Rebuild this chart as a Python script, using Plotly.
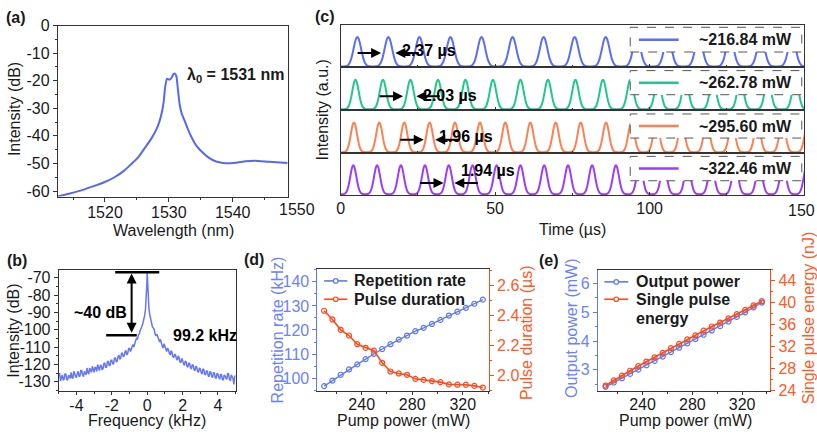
import plotly.graph_objects as go

W, H = 817, 437
FONT = "Liberation Sans, Arial, Helvetica, sans-serif"
INK = "#1a1a1a"
FRAME = "#333333"

# ---------------- data ----------------
# (a) optical spectrum
wavelength_nm = [1512.6, 1514.5, 1516.5, 1518.5, 1519.7, 1521.5, 1523.0, 1523.9, 1525.2, 1526.45,
                 1527.3, 1528.0, 1528.5, 1528.96, 1529.2, 1529.4, 1529.7, 1530.1, 1530.4, 1530.7,
                 1530.95, 1531.2, 1531.4, 1531.7, 1532.0, 1532.45, 1533.0, 1533.5, 1534.3, 1535.3,
                 1536.3, 1537.4, 1538.8, 1540.5, 1542.0, 1543.5, 1545.7, 1548.6]
spectrum_db = [-62.0, -60.9, -59.6, -58.0, -57.0, -55.0, -52.6, -50.7, -47.8, -43.7,
               -40.8, -37.9, -35.0, -30.9, -27.5, -22.7, -19.3, -19.6, -19.0, -17.6,
               -17.4, -18.5, -22.7, -28.6, -31.8, -34.4, -37.6, -40.2, -43.5, -46.0,
               -48.0, -49.3, -49.9, -49.7, -49.2, -49.0, -49.4, -49.8]

# (b) RF spectrum
freq_khz = [-5.00, -4.95, -4.90, -4.85, -4.80, -4.75, -4.70, -4.65, -4.60, -4.55,
            -4.50, -4.45, -4.40, -4.35, -4.30, -4.25, -4.20, -4.15, -4.10, -4.05,
            -4.00, -3.95, -3.90, -3.85, -3.80, -3.75, -3.70, -3.65, -3.60, -3.55,
            -3.50, -3.45, -3.40, -3.35, -3.30, -3.25, -3.20, -3.15, -3.10, -3.05,
            -3.00, -2.95, -2.90, -2.85, -2.80, -2.75, -2.70, -2.65, -2.60, -2.55,
            -2.50, -2.45, -2.40, -2.35, -2.30, -2.25, -2.20, -2.15, -2.10, -2.05,
            -2.00, -1.95, -1.90, -1.85, -1.80, -1.75, -1.70, -1.65, -1.60, -1.55,
            -1.50, -1.45, -1.40, -1.35, -1.30, -1.25, -1.20, -1.15, -1.10, -1.05,
            -1.00, -0.95, -0.90, -0.85, -0.80, -0.75, -0.70, -0.65, -0.60, -0.55,
            -0.50, -0.45, -0.40, -0.35, -0.30, -0.25, -0.20, -0.15, -0.10,
            -0.05, -0.02, 0.00, 0.02, 0.05,
            0.10, 0.15, 0.20, 0.25, 0.30, 0.35, 0.40, 0.45, 0.50,
            0.55, 0.60, 0.65, 0.70, 0.75, 0.80, 0.85, 0.90, 0.95, 1.00,
            1.05, 1.10, 1.15, 1.20, 1.25, 1.30, 1.35, 1.40, 1.45, 1.50,
            1.55, 1.60, 1.65, 1.70, 1.75, 1.80, 1.85, 1.90, 1.95, 2.00,
            2.05, 2.10, 2.15, 2.20, 2.25, 2.30, 2.35, 2.40, 2.45, 2.50,
            2.55, 2.60, 2.65, 2.70, 2.75, 2.80, 2.85, 2.90, 2.95, 3.00,
            3.05, 3.10, 3.15, 3.20, 3.25, 3.30, 3.35, 3.40, 3.45, 3.50,
            3.55, 3.60, 3.65, 3.70, 3.75, 3.80, 3.85, 3.90, 3.95, 4.00,
            4.05, 4.10, 4.15, 4.20, 4.25, 4.30, 4.35, 4.40, 4.45, 4.50,
            4.55, 4.60, 4.65, 4.70, 4.75, 4.80, 4.85, 4.90, 4.95, 5.00]
rf_db = [-127.0, -125.0, -129.5, -127.0, -126.0, -129.0, -128.5, -125.5, -125.5, -128.5,
         -129.0, -126.5, -126.5, -128.0, -124.5, -127.5, -128.0, -124.0, -125.0, -127.0,
         -127.5, -125.0, -124.0, -127.0, -126.5, -123.5, -123.5, -126.0, -127.0, -124.0,
         -124.5, -126.0, -122.0, -124.5, -125.5, -122.0, -123.0, -124.5, -121.0, -123.5,
         -124.5, -121.5, -122.0, -124.0, -120.0, -122.0, -123.5, -120.5, -120.5, -123.0,
         -122.5, -119.5, -119.0, -121.5, -121.5, -118.5, -118.0, -120.5, -120.5, -117.5,
         -117.5, -119.5, -119.5, -116.5, -116.0, -118.5, -118.0, -115.5, -114.5, -117.0,
         -116.5, -113.5, -113.5, -115.5, -115.0, -112.5, -112.0, -114.5, -113.5, -111.0,
         -110.5, -112.5, -111.5, -109.5, -108.5, -110.0, -107.5, -106.0, -105.0, -105.5,
         -103.0, -102.5, -100.5, -99.5, -98.0, -96.5, -94.5, -92.0, -88.5,
         -82.0, -74.0, -67.0, -74.0, -82.0,
         -88.0, -91.5, -94.0, -96.0, -98.5, -99.0, -100.0, -102.5, -103.5,
         -102.5, -104.5, -106.0, -107.0, -105.5, -108.0, -109.5, -110.5, -108.0, -109.5,
         -111.5, -112.5, -110.5, -111.5, -113.5, -114.5, -112.0, -113.0, -115.5, -116.0,
         -114.0, -114.5, -116.5, -117.5, -115.0, -116.0, -118.5, -119.0, -116.5, -117.5,
         -119.5, -120.5, -118.0, -118.5, -121.0, -121.5, -119.0, -119.5, -122.0, -122.5,
         -120.0, -120.5, -123.0, -123.5, -121.0, -121.5, -124.0, -124.5, -122.0, -122.5,
         -124.5, -125.5, -122.5, -123.0, -125.5, -126.0, -123.5, -124.0, -126.5, -127.0,
         -124.0, -124.5, -127.0, -127.5, -124.5, -125.0, -127.5, -128.0, -125.0, -125.5,
         -127.5, -128.5, -125.5, -126.0, -128.5, -129.0, -126.0, -126.5, -128.0, -128.5,
         -125.0, -125.5, -128.5, -129.5, -126.0, -127.0, -128.0, -131.5, -126.5, -127.0]

# (c) pulse trains: pulse centre times (us), durations (us), labels
peaks_216 = [5.4, 15.45, 25.5, 35.55, 45.6, 55.65, 65.7, 75.75, 85.8, 95.85, 105.9, 115.95,
             126.0, 136.05, 146.1]
peaks_262 = [4.8, 13.7, 22.6, 31.5, 40.4, 49.3, 58.2, 67.1, 76.0, 84.9, 93.8, 102.7, 111.6,
             120.5, 129.4, 138.3, 147.2]
peaks_295 = [4.3, 12.5, 20.6, 28.8, 37.0, 45.1, 53.3, 61.4, 69.6, 77.7, 85.9, 94.1, 102.2,
             110.4, 118.5, 126.7, 134.9, 143.0, 151.2]
peaks_322 = [4.1, 11.8, 19.5, 27.3, 35.0, 42.7, 50.5, 58.2, 65.9, 73.6, 81.4, 89.1, 96.8,
             104.6, 112.3, 120.0, 127.7, 135.5, 143.2, 150.9]
pulse_fwhm_us = [2.37, 2.03, 1.96, 1.94]
pulse_labels = ["~216.84 mW", "~262.78 mW", "~295.60 mW", "~322.46 mW"]
duration_labels = ["2.37 µs", "2.03 µs", "1.96 µs", "1.94 µs"]
time_ticks = [0, 50, 100, 150]
# single-pulse profile (offset in units of the pulse duration, normalised height)
pulse_shape_u = [-1.9, -1.56, -1.32, -1.08, -0.84, -0.6, -0.36, -0.18, 0.0,
                 0.18, 0.36, 0.6, 0.84, 1.08, 1.32, 1.56, 1.9]
pulse_shape_a = [0.0, 0.009, 0.035, 0.106, 0.257, 0.5, 0.779, 0.94, 1.0,
                 0.94, 0.779, 0.5, 0.257, 0.106, 0.035, 0.009, 0.0]

# (d), (e)
pump_mw = [210.27, 216.84, 223.40, 229.97, 236.53, 243.10, 249.66, 256.22, 262.78, 269.34,
           275.91, 282.47, 289.04, 295.60, 302.32, 309.03, 315.75, 322.46, 329.17, 335.88]
rep_rate_khz = [96.7, 99.0, 101.4, 103.6, 105.7, 107.9, 110.1, 112.1, 114.1, 116.0,
                117.7, 119.5, 120.9, 122.5, 124.2, 126.0, 127.6, 129.2, 130.9, 132.6]
pulse_dur_us = [2.433, 2.375, 2.306, 2.268, 2.210, 2.186, 2.167, 2.086, 2.028, 2.015,
                2.006, 1.979, 1.972, 1.964, 1.957, 1.942, 1.940, 1.940, 1.932, 1.921]
out_power_mw = [2.41, 2.56, 2.71, 2.86, 3.01, 3.16, 3.31, 3.46, 3.62, 3.77,
                3.92, 4.07, 4.22, 4.37, 4.52, 4.68, 4.84, 5.00, 5.17, 5.34]
pulse_energy_nj = [24.92, 25.86, 26.73, 27.61, 28.48, 29.29, 30.06, 30.87, 31.73, 32.50,
                   33.31, 34.06, 34.90, 35.67, 36.39, 37.14, 37.93, 38.70, 39.50, 40.27]

# ---------------- styling ----------------
C_SPEC = "#5468F0"
C_RF = "#6677F5"
C_TRAIN = ["#5B6EF5", "#1EC98A", "#FF8050", "#9B3DFF"]
C_BLUE = "#5F78F6"
C_ORANGE = "#FF4A1A"
C_BLUE_T = "#6B82FF"
C_ORANGE_T = "#FF5A28"


def px_x(p):
    return p / W


def px_y(p):
    return 1 - p / H


def base_axis(**kw):
    d = dict(showline=True, linecolor=FRAME, linewidth=1, mirror=True, ticks="outside",
             ticklen=4, tickwidth=1, tickcolor=FRAME, showgrid=False, zeroline=False,
             tickfont=dict(family=FONT, size=16, color=INK))
    d.update(kw)
    return d


def minor(dt, inside=False, color=FRAME):
    return dict(ticks="inside" if inside else "outside", ticklen=2, dtick=dt,
                tickcolor=color, showgrid=False)


fig = go.Figure()

# (a)
fig.add_trace(go.Scatter(x=wavelength_nm, y=spectrum_db, mode="lines", xaxis="x", yaxis="y",
                         line=dict(color=C_SPEC, width=2, shape="spline", smoothing=0.4),
                         showlegend=False))
# (b)
fig.add_trace(go.Scatter(x=freq_khz, y=rf_db, mode="lines", xaxis="x2", yaxis="y2",
                         line=dict(color=C_RF, width=1.5), showlegend=False))

# (c)
trains = [peaks_216, peaks_262, peaks_295, peaks_322]
for i, (peaks, fw) in enumerate(zip(trains, pulse_fwhm_us)):
    xs, ys = [0.0], [0.0]
    for p in peaks:
        for u, a in zip(pulse_shape_u, pulse_shape_a):
            xs.append(p + u * fw)
            ys.append(a)
    xs.append(156.0)
    ys.append(0.0)
    fig.add_trace(go.Scatter(x=xs, y=ys, mode="lines", xaxis=f"x{3 + i}", yaxis=f"y{3 + i}",
                             line=dict(color=C_TRAIN[i], width=2, shape="spline", smoothing=0.6),
                             showlegend=False))

# (d)
fig.add_trace(go.Scatter(x=pump_mw, y=rep_rate_khz, mode="lines+markers", xaxis="x7", yaxis="y7",
                         line=dict(color=C_BLUE, width=1.3),
                         marker=dict(symbol="circle-open", size=5, color=C_BLUE, line=dict(width=1.2)),
                         showlegend=False))
fig.add_trace(go.Scatter(x=pump_mw, y=pulse_dur_us, mode="lines+markers", xaxis="x7", yaxis="y8",
                         line=dict(color=C_ORANGE, width=1.6),
                         marker=dict(symbol="circle-open", size=5, color=C_ORANGE, line=dict(width=1.2)),
                         showlegend=False))
# (e)
fig.add_trace(go.Scatter(x=pump_mw, y=out_power_mw, mode="lines+markers", xaxis="x8", yaxis="y9",
                         line=dict(color=C_BLUE, width=1.3),
                         marker=dict(symbol="circle-open", size=5, color=C_BLUE, line=dict(width=1.2)),
                         showlegend=False))
fig.add_trace(go.Scatter(x=pump_mw, y=pulse_energy_nj, mode="lines+markers", xaxis="x8", yaxis="y10",
                         line=dict(color=C_ORANGE, width=1.6),
                         marker=dict(symbol="circle-open", size=5, color=C_ORANGE, line=dict(width=1.2)),
                         showlegend=False))

layout = dict(width=W, height=H, margin=dict(l=0, r=0, t=0, b=0), paper_bgcolor="white",
              plot_bgcolor="white", showlegend=False, font=dict(family=FONT, color=INK))

# axes (a)
layout["xaxis"] = base_axis(domain=[px_x(54), px_x(285)], anchor="y", range=[1512.6, 1548.6],
                            ticklabelstandoff=-3, tickvals=[1520, 1530, 1540], minor=minor(5))
layout["yaxis"] = base_axis(domain=[px_y(195.7), px_y(18.3)], anchor="x", range=[-62, 0],
                            tickvals=[0, -10, -20, -30, -40, -50, -60],
                            ticktext=["0", "-10", "-20", "-30", "-40", "-50", "-60"], minor=minor(5))
# axes (b)
layout["xaxis2"] = base_axis(domain=[px_x(55), px_x(232.8)], anchor="y2", range=[-5, 5], ticklen=3,
                             ticklabelstandoff=-4,
                             tickvals=[-4, -2, 0, 2, 4], ticktext=["-4", "-2", "0", "2", "4"],
                             minor=minor(1))
layout["yaxis2"] = base_axis(domain=[px_y(398), px_y(271.7)], anchor="x2", range=[-135.5, -65.4],
                             tickvals=[-70, -80, -90, -100, -110, -120, -130],
                             ticktext=["-70", "-80", "-90", "-100", "-110", "-120", "-130"],
                             minor=minor(5))
# axes (c)
rows = [17.3, 61.7, 106, 150.7, 194.3]
for i in range(4):
    xa = base_axis(domain=[px_x(338.3), px_x(804)], anchor=f"y{3 + i}", range=[0, 150],
                   ticks="inside", ticklen=3, tickvals=time_ticks, ticklabelstandoff=-1,
                   ticktext=[str(t) for t in time_ticks[:-1]] + [""],
                   minor=minor(25, inside=True), showticklabels=(i == 3))
    layout[f"xaxis{3 + i}"] = xa
    layout[f"yaxis{3 + i}"] = base_axis(domain=[px_y(rows[i + 1]), px_y(rows[i])], anchor=f"x{3 + i}",
                                        range=[-0.0325, 1.414], ticks="", showticklabels=False)
# axes (d)
layout["xaxis7"] = base_axis(domain=[px_x(315), px_x(487.3)], anchor="y7", range=[205, 340.7], ticklen=3,
                             ticklabelstandoff=-4, tickvals=[240, 280, 320], minor=minor(20))
layout["yaxis7"] = base_axis(domain=[px_y(397.7), px_y(271)], anchor="x7", range=[94.6, 145.3],
                             tickvals=[100, 110, 120, 130, 140], minor=minor(5, color=C_BLUE),
                             mirror=False, linecolor=C_BLUE, tickcolor=C_BLUE,
                             tickfont=dict(family=FONT, size=16, color=C_BLUE_T))
layout["yaxis8"] = base_axis(anchor="x7", overlaying="y7", side="right", range=[1.897, 2.711],
                             tickvals=[2.0, 2.2, 2.4, 2.6], ticktext=["2.0", "2.2", "2.4", "2.6"],
                             minor=minor(0.1, color=C_ORANGE), mirror=False, linecolor=C_ORANGE,
                             tickcolor=C_ORANGE, tickfont=dict(family=FONT, size=16, color=C_ORANGE_T))
# axes (e)
layout["xaxis8"] = base_axis(domain=[px_x(596.7), px_x(770)], anchor="y9", range=[204, 342.6], ticklen=3,
                             ticklabelstandoff=-4, tickvals=[240, 280, 320], minor=minor(20))
layout["yaxis9"] = base_axis(domain=[px_y(397.7), px_y(271.7)], anchor="x8", range=[2.26, 6.48],
                             tickvals=[3, 4, 5, 6], minor=minor(0.5, color=C_BLUE),
                             mirror=False, linecolor=C_BLUE, tickcolor=C_BLUE,
                             tickfont=dict(family=FONT, size=16, color=C_BLUE_T))
layout["yaxis10"] = base_axis(anchor="x8", overlaying="y9", side="right", range=[23.9, 46.0],
                              tickvals=[24, 28, 32, 36, 40, 44], minor=minor(2, color=C_ORANGE),
                              mirror=False, linecolor=C_ORANGE, tickcolor=C_ORANGE,
                              tickfont=dict(family=FONT, size=16, color=C_ORANGE_T))


def txt(text, px, py, size=16, color=INK, bold=False, angle=0, xanchor="center", yanchor="middle"):
    return dict(text=text, x=px_x(px), y=px_y(py), xref="paper", yref="paper", showarrow=False,
                textangle=angle, xanchor=xanchor, yanchor=yanchor,
                font=dict(family=FONT, size=size, color=color, weight="bold" if bold else "normal"))


ann = []
# panel labels
for lab, px, py in [("(a)", 12, 10), ("(b)", 13, 262), ("(c)", 323, 9), ("(d)", 251, 261.5),
                    ("(e)", 548, 262.5)]:
    ann.append(txt(lab, px, py, size=16, bold=True))
# axis titles
ann += [
    txt("Intensity (dB)", 10, 105, angle=-90),
    txt("Wavelength (nm)", 170, 231),
    txt("1550", 294, 209),
    txt(str(time_ticks[-1]), 801, 210.5),
    txt("Intensity (dB)", 10, 335, angle=-90),
    txt("Frequency (kHz)", 144, 428.5),
    txt("Intensity (a.u.)", 320, 106, angle=-90),
    txt("Time (µs)", 571, 229.5),
    txt("Repetition rate (kHz)", 275, 334, color=C_BLUE_T, angle=-90),
    txt("Pulse duration (µs)", 525, 337, color=C_ORANGE_T, angle=-90),
    txt("Pump power (mW)", 401.5, 428.5),
    txt("Output power (mW)", 571, 332, color=C_BLUE_T, angle=-90),
    txt("Single pulse energy (nJ)", 808, 322, color=C_ORANGE_T, angle=-90),
    txt("Pump power (mW)", 685, 428.5),
]
# (a) label
ann.append(txt("λ<sub>0</sub> = 1531 nm", 181.7, 70, bold=True, xanchor="left"))
# (b) labels and arrow
ann.append(dict(x=-0.88, y=-67.6, ax=-0.88, ay=-102.6, xref="x2", yref="y2", axref="x2", ayref="y2",
                text="", showarrow=True, arrowhead=2, startarrowhead=2, arrowside="end+start",
                arrowsize=1, arrowwidth=2, arrowcolor="#000"))
ann.append(dict(text="~40 dB", x=-2.64, y=-90.3, xref="x2", yref="y2", showarrow=False,
                font=dict(family=FONT, size=16, color="#000", weight="bold")))
ann.append(dict(text="99.2 kHz", x=3.27, y=-103.2, xref="x2", yref="y2", showarrow=False,
                font=dict(family=FONT, size=16, color="#000", weight="bold")))

# (c) arrows and duration labels: (right-arrow head, left-arrow head, arrow y px, text x, text y px)
arrow_specs = [(13.1, 17.7, 46.7, 28.5, 33.3), (20.2, 24.5, 91.7, 35.3, 80.0),
               (26.9, 30.6, 136.7, 40.6, 122.7), (33.3, 36.8, 181.7, 47.6, 168.3)]
for i, (hr, hl, ay_px, tx, ty) in enumerate(arrow_specs):
    xr = f"x{3 + i}"
    for head, off in [(hr, -25), (hl, 25)]:
        ann.append(dict(x=head, y=px_y(ay_px), xref=xr, yref="paper", ax=off, ay=0, axref="pixel",
                        ayref="pixel", text="", showarrow=True, arrowhead=2, arrowsize=1,
                        arrowwidth=2, arrowcolor="#000"))
    ann.append(dict(text=duration_labels[i], x=tx, y=px_y(ty), xref=xr, yref="paper", showarrow=False,
                    font=dict(family=FONT, size=16, color="#000", weight="bold")))

shapes = []
# (b) reference lines
shapes.append(dict(type="line", xref="x2", yref="y2", x0=-1.81, x1=0.68, y0=-66.8, y1=-66.8,
                   line=dict(color="#000", width=2.5)))
shapes.append(dict(type="line", xref="x2", yref="y2", x0=-2.32, x1=-0.59, y0=-103.2, y1=-103.2,
                   line=dict(color="#000", width=2.5)))

# (c) legend boxes
box_rows = [(20, 45.7), (65, 90), (110, 135), (154, 179.3)]
for i, (y0, y1) in enumerate(box_rows):
    shapes.append(dict(type="rect", xref="paper", yref="paper", x0=px_x(629.3), x1=px_x(801.7),
                       y0=px_y(y1), y1=px_y(y0), fillcolor="white", layer="above",
                       line=dict(color="#555", width=1, dash="dash")))
    yc = (y0 + y1) / 2
    shapes.append(dict(type="line", xref="paper", yref="paper", x0=px_x(638), x1=px_x(678),
                       y0=px_y(yc), y1=px_y(yc), layer="above", line=dict(color=C_TRAIN[i], width=2.5)))
    ann.append(txt(pulse_labels[i], 696.7, yc, bold=True, xanchor="left"))


def legend_item(x0, x1, yc, color, label, tx):
    shapes.append(dict(type="line", xref="paper", yref="paper", x0=px_x(x0), x1=px_x(x1),
                       y0=px_y(yc), y1=px_y(yc), line=dict(color=color, width=1.6)))
    cx = (x0 + x1) / 2
    shapes.append(dict(type="circle", xref="paper", yref="paper", x0=px_x(cx - 2.3), x1=px_x(cx + 2.3),
                       y0=px_y(yc + 2.3), y1=px_y(yc - 2.3), fillcolor="white",
                       line=dict(color=color, width=1.2)))
    ann.append(txt(label, tx, yc, bold=True, xanchor="left"))


legend_item(321.7, 345, 283.3, C_BLUE, "Repetition rate", 350)
legend_item(321.7, 345, 302.3, C_ORANGE, "Pulse duration", 350)
legend_item(603.3, 627.3, 284.3, C_BLUE, "Output power", 632.7)
legend_item(603.3, 627.3, 302.3, C_ORANGE, "Single pulse", 632.7)
ann.append(txt("energy", 632.7, 322.5, bold=True, xanchor="left"))

layout["annotations"] = ann
layout["shapes"] = shapes
fig.update_layout(**layout)
fig.write_html("out.html")
